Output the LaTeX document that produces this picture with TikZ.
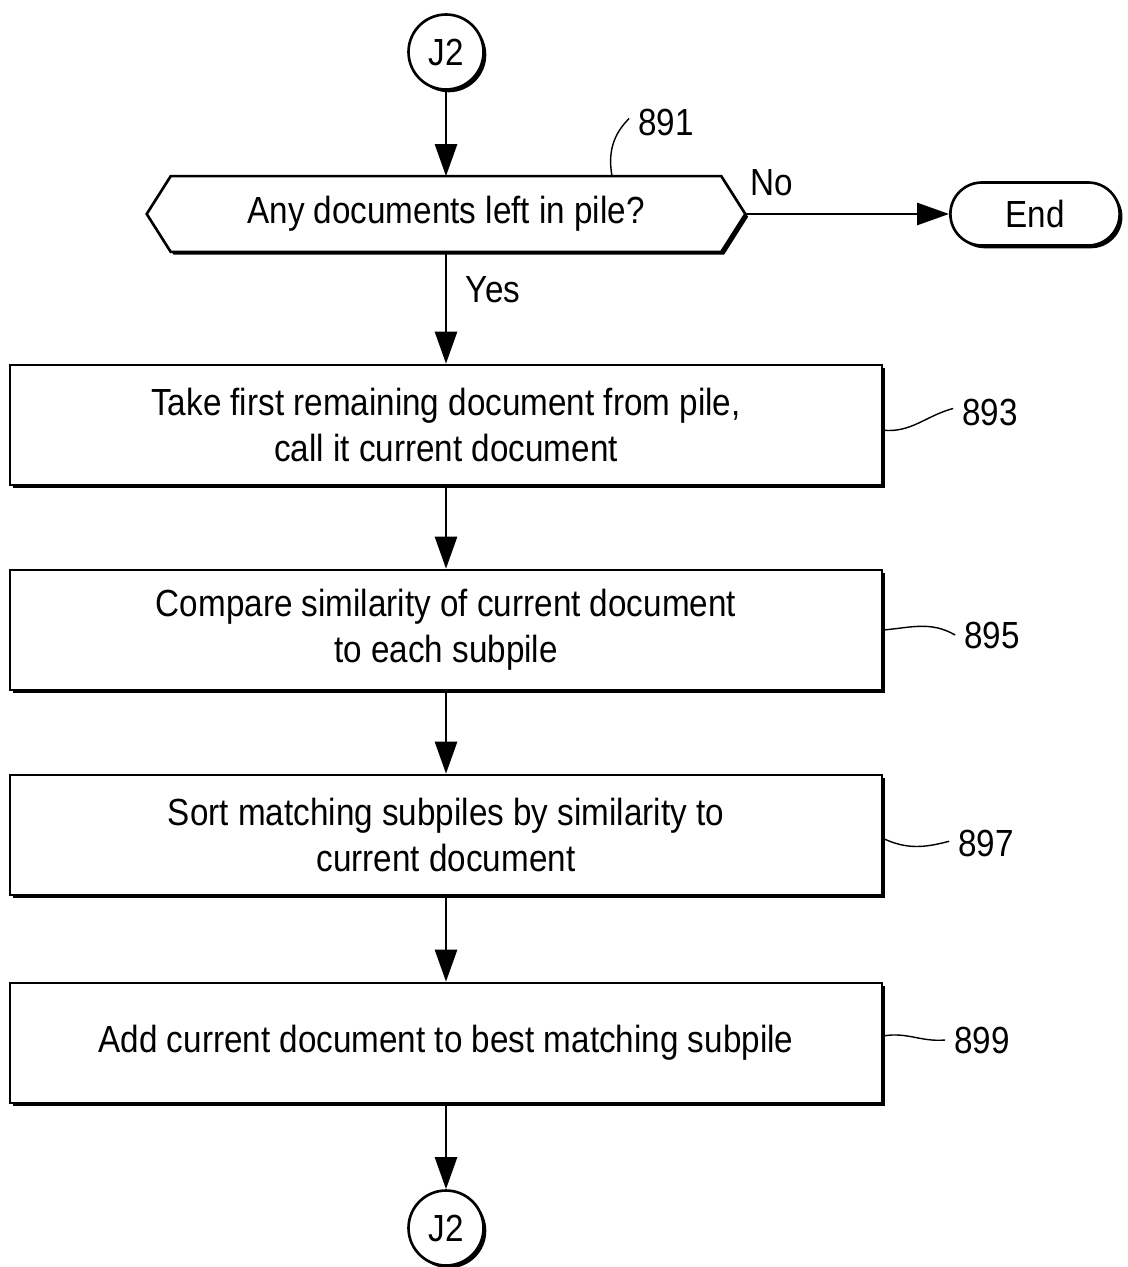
\documentclass[tikz,border=0pt]{standalone}
\usepackage{fontspec}
\setmainfont{Liberation Sans}[FakeStretch=0.88]
\usepackage{tikz}
\usetikzlibrary{arrows.meta, shapes.misc, shadows, backgrounds, calc}

\tikzset{
  outline/.style={draw, fill=white, line width=1.5pt,
    drop shadow={shadow xshift=1.6pt, shadow yshift=-1.6pt, fill=black, opacity=1}},
  procbox/.style={outline, minimum width=17.44cm, minimum height=2.4cm, align=center},
  joint/.style={outline, circle, minimum size=1.5cm, inner sep=0pt},
  terminal/.style={outline, rounded rectangle, minimum width=3.62cm, minimum height=1.26cm},
  flow/.style={line width=1.5pt, -{Triangle[length=0.64cm, width=0.44cm]}},
  leader/.style={line width=0.8pt},
  refnum/.style={inner sep=0pt}
}

\begin{document}
\begin{tikzpicture}[x=0.02cm, y=-0.02cm, font=\fontsize{21.5}{26}\selectfont]
    \useasboundingbox (0,0) rectangle (1127,1267);

    % connector and decision
    \node[joint] (j2top) at (446,52) {J2};
    \node[minimum width=11cm, minimum height=1.5cm] (dec) at (446,214) {Any documents left in pile?};
    \coordinate (decl) at ($(dec.west)+(-24,0)$);
    \coordinate (decr) at ($(dec.east)+(24,0)$);
    \begin{scope}[on background layer]
      \draw[outline] (dec.north west) -- (dec.north east) -- (decr) -- (dec.south east)
        -- (dec.south west) -- (decl) -- cycle;
    \end{scope}
    \node[terminal] (end) at (1035,214) {End};

    % process steps
    \node[procbox] (take) at (446,425) {Take first remaining document from pile,\\call it current document};
    \node[procbox] (compare) at (446,630) {Compare similarity of current document\\to each subpile};
    \node[procbox] (sort) at (446,835) {Sort matching subpiles by similarity to\\current document};
    \node[procbox] (add) at (446,1043) {Add current document to best matching subpile};
    \node[joint] (j2bot) at (446,1228) {J2};

    % flow
    \draw[flow] (j2top) -- (dec.north);
    \draw[flow] (decr) -- (end);
    \draw[flow] (dec.south) -- (take);
    \draw[flow] (take) -- (compare);
    \draw[flow] (compare) -- (sort);
    \draw[flow] (sort) -- (add);
    \draw[flow] (add) -- (j2bot);
    \node (lno) at (772,183) {No};
    \node (lyes) at (493,290) {Yes};

    % reference numerals
    \node[refnum] (n891) at (666,122) {891};
    \node[refnum] (n893) at (990,412) {893};
    \node[refnum] (n895) at (992,635) {895};
    \node[refnum] (n897) at (986,843) {897};
    \node[refnum] (n899) at (982,1040) {899};
    \draw[leader] ($(dec.north)+(166,0)$) to[out=100, in=225] ([shift={(-5pt,2pt)}]n891.west);
    \draw[leader] ([yshift=-3pt]take.east) to[out=-5, in=195] ([shift={(-5pt,2pt)}]n893.west);
    \draw[leader] (compare.east) to[out=5, in=150] ([xshift=-5pt]n895.west);
    \draw[leader] ([yshift=-2pt]sort.east) to[out=-25, in=195] ([shift={(-5pt,1pt)}]n897.west);
    \draw[leader] ([yshift=4pt]add.east) to[out=10, in=185] ([xshift=-5pt]n899.west);
\end{tikzpicture}
\end{document}
